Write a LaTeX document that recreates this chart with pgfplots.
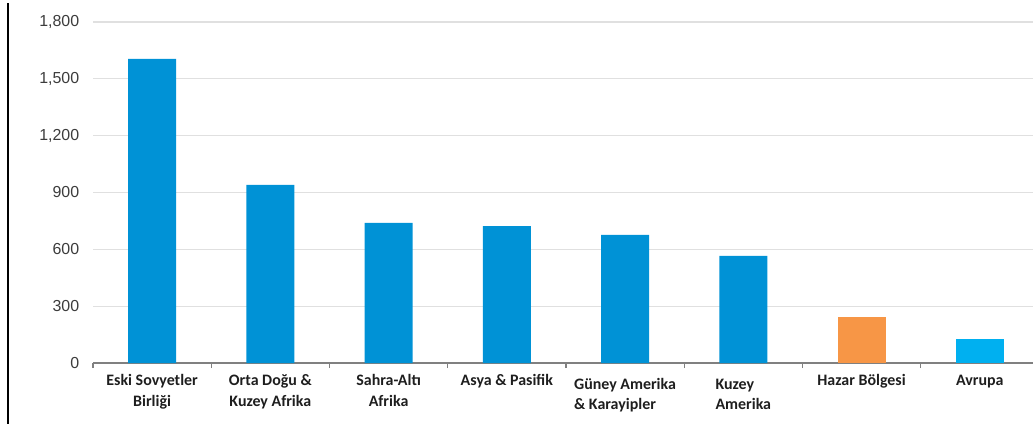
\documentclass[border=0pt]{standalone}
\usepackage{pgfplots}
\pgfplotsset{compat=1.18}
\usepackage{fontspec}
\setmainfont{Liberation Sans}
\newfontfamily\calfont{Carlito}
\definecolor{barblue}{RGB}{0,146,214}
\definecolor{barorange}{RGB}{247,150,70}
\definecolor{barlight}{RGB}{0,176,240}
\definecolor{gridgray}{RGB}{224,224,224}
\definecolor{axgray}{RGB}{128,128,128}
\definecolor{txt}{RGB}{30,30,30}
\definecolor{ytxt}{RGB}{60,60,60}
\pgfplotstableread{
x y
0 1605
1 940
2 740
3 723
4 676
5 565
}\blueA
\pgfplotstableread{
x y
6 243
}\orangeB
\pgfplotstableread{
x y
7 127
}\lightC
\begin{document}
\begin{tikzpicture}
\useasboundingbox (0,0) rectangle (1033bp,424bp);
\draw[black, line width=1.2bp] (8bp,0) -- (8bp,421bp);
\begin{axis}[
  at={(93bp,61bp)}, anchor=south west,
  scale only axis, width=940bp, height=341bp,
  xmin=-0.5, xmax=7.45, ymin=0, ymax=1800,
  axis x line*=bottom, axis y line*=left,
  y axis line style={draw=none},
  x axis line style={draw=axgray, line width=1.6bp, -},
  ytick={0,300,...,1800},
  ytick style={draw=none},
  ymajorgrids, grid style={draw=gridgray, line width=1.2bp},
  xtick={0,...,7},
  major x tick style={draw=none},
  minor xtick={-0.5,0.5,...,6.5},
  minor x tick style={draw=axgray, line width=1.2bp},
  minor tick length=5bp,
  tick align=outside,
  clip=false,
  /pgf/number format/.cd, 1000 sep={,}, assume math mode=true,
  /pgfplots/.cd,
  yticklabel style={font=\fontsize{16}{18}\selectfont, text=ytxt, xshift=-6bp},
  xticklabel style={font=\calfont\bfseries\fontsize{16}{20.5}\selectfont, text=txt, align=center, anchor=north, yshift=-4bp},
  xticklabels={{Eski Sovyetler\\Birliği},{Orta Doğu \&\\Kuzey Afrika},{Sahra-Altı\\Afrika},{Asya \& Pasifik},{\begin{tabular}{@{}l@{}}Güney Amerika\\\& Karayipler\end{tabular}},{\begin{tabular}{@{}l@{}}Kuzey\\Amerika\end{tabular}},{Hazar Bölgesi},{Avrupa}},
  ybar, bar width=48bp, bar shift=0pt,
]
\addplot[fill=barblue, draw=none] table[x=x,y=y]{\blueA};
\addplot[fill=barorange, draw=none] table[x=x,y=y]{\orangeB};
\addplot[fill=barlight, draw=none] table[x=x,y=y]{\lightC};
\end{axis}
\end{tikzpicture}
\end{document}
